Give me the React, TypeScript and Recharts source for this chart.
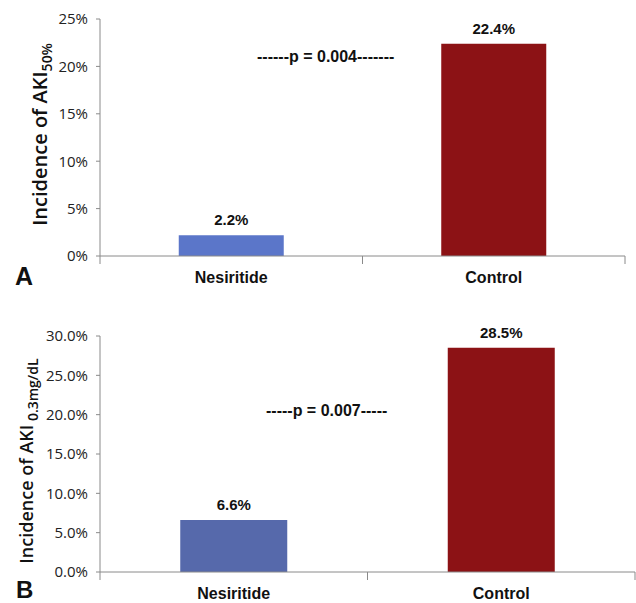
import React from 'react';
import { BarChart, Bar, XAxis, YAxis, Cell, LabelList } from 'recharts';

const categories = ['Nesiritide', 'Control'];
const valuesA = [2.2, 22.4];
const valuesB = [6.6, 28.5];
const ticksA = [0, 5, 10, 15, 20, 25];
const ticksB = [0, 5, 10, 15, 20, 25, 30];
const colorsA = ['#5B76C9', '#8C1215'];
const colorsB = ['#5669AB', '#8C1215'];
const pTextA = '------p = 0.004-------';
const pTextB = '-----p = 0.007-----';

const dataA = categories.map((c, i) => ({ name: c, v: valuesA[i] }));
const dataB = categories.map((c, i) => ({ name: c, v: valuesB[i] }));

const AXIS = '#8a8a8a';
const TICK_SIZE = 8;
const TICK_MARGIN = 8;

const CatTick = (props: any) => {
  const { x, y, payload, index, visibleTicksCount, width } = props;
  const off = payload && typeof payload.offset === 'number' && payload.offset > 0
    ? payload.offset
    : width / (2 * visibleTicksCount);
  const axisY = y - TICK_SIZE - TICK_MARGIN;
  return (
    <g>
      <line x1={x - off} x2={x - off} y1={axisY} y2={axisY + TICK_SIZE} stroke={AXIS} />
      {index === visibleTicksCount - 1 && (
        <line x1={x + off} x2={x + off} y1={axisY} y2={axisY + TICK_SIZE} stroke={AXIS} />
      )}
      <text x={x} y={y} dy="0.71em" textAnchor="middle"
        style={{ fontFamily: 'Liberation Sans, Arial', fontWeight: 'bold', fontSize: 16 }} fill="#111">
        {payload.value}
      </text>
    </g>
  );
};

const makeYLabel = (main: string, sub: string, bx: number, dyc: number, size: number, subSize: number) => (p: any) => {
  const vb = p.viewBox || {};
  const cx = (vb.x || 0) + bx;
  const cy = (vb.y || 0) + (vb.height || 0) / 2 + dyc;
  return (
    <text x={cx} y={cy} textAnchor="middle" transform={`rotate(-90 ${cx} ${cy})`}
      style={{ fontFamily: 'Open Sans', fontSize: size, fontWeight: 600 }} fill="#111">
      {main}
      <tspan dy={5} fontSize={subSize}>{sub}</tspan>
    </text>
  );
};

const tickStyle = { fontFamily: 'Open Sans', fontSize: 15, fill: '#222' };
const valueStyle = { fontFamily: 'Liberation Sans, Arial', fontWeight: 'bold', fontSize: 15 };

export default function App() {
  return (
    <div style={{ position: 'absolute', left: 0, top: 0, width: 636, height: 603, background: '#fff' }}>
      <div style={{ position: 'absolute', left: 0, top: 0 }}>
        <BarChart width={636} height={300} data={dataA} margin={{ top: 19, right: 11, left: 0, bottom: 0 }}
          barCategoryGap="30%">
          <XAxis dataKey="name" height={44} tickLine={false} axisLine={{ stroke: AXIS }}
            tickSize={TICK_SIZE} tickMargin={TICK_MARGIN} tick={<CatTick />} interval={0} />
          <YAxis width={100} domain={[0, 25]} ticks={ticksA} tickFormatter={(v: number) => `${v}%`}
            axisLine={{ stroke: AXIS }} tickLine={{ stroke: AXIS }} tickSize={4} tickMargin={8}
            tick={tickStyle} interval={0}
            label={{ content: makeYLabel('Incidence of AKI', '50%', 47, -3, 20, 14) }} />
          <Bar dataKey="v" isAnimationActive={false}>
            {dataA.map((d, i) => <Cell key={d.name} fill={colorsA[i]} />)}
            <LabelList dataKey="v" position="top" offset={10} formatter={(v: any) => `${v}%`}
              style={valueStyle} fill="#111" />
          </Bar>
        </BarChart>
      </div>
      <div style={{ position: 'absolute', left: 0, top: 300 }}>
        <BarChart width={636} height={303} data={dataB} margin={{ top: 36, right: 1, left: 0, bottom: 0 }}
          barCategoryGap="30%">
          <XAxis dataKey="name" height={31} tickLine={false} axisLine={{ stroke: AXIS }}
            tickSize={TICK_SIZE} tickMargin={TICK_MARGIN} tick={<CatTick />} interval={0} />
          <YAxis width={100} domain={[0, 30]} ticks={ticksB} tickFormatter={(v: number) => `${v.toFixed(1)}%`}
            axisLine={{ stroke: AXIS }} tickLine={{ stroke: AXIS }} tickSize={4} tickMargin={8}
            tick={tickStyle} interval={0}
            label={{ content: makeYLabel('Incidence of AKI', ' 0.3mg/dL', 33, 7, 18, 14) }} />
          <Bar dataKey="v" isAnimationActive={false}>
            {dataB.map((d, i) => <Cell key={d.name} fill={colorsB[i]} />)}
            <LabelList dataKey="v" position="top" offset={10} formatter={(v: any) => `${v}%`}
              style={valueStyle} fill="#111" />
          </Bar>
        </BarChart>
      </div>
      <div style={{ position: 'absolute', left: 257, top: 48, font: 'bold 16px "Liberation Sans", Arial', color: '#111', whiteSpace: 'nowrap' }}>{pTextA}</div>
      <div style={{ position: 'absolute', left: 266, top: 402, font: 'bold 16px "Liberation Sans", Arial', color: '#111', whiteSpace: 'nowrap' }}>{pTextB}</div>
      <div style={{ position: 'absolute', left: 15, top: 262, font: 'bold 25px "Liberation Sans", Arial', color: '#111' }}>A</div>
      <div style={{ position: 'absolute', left: 16, top: 576, font: 'bold 24px "Liberation Sans", Arial', color: '#111' }}>B</div>
    </div>
  );
}
